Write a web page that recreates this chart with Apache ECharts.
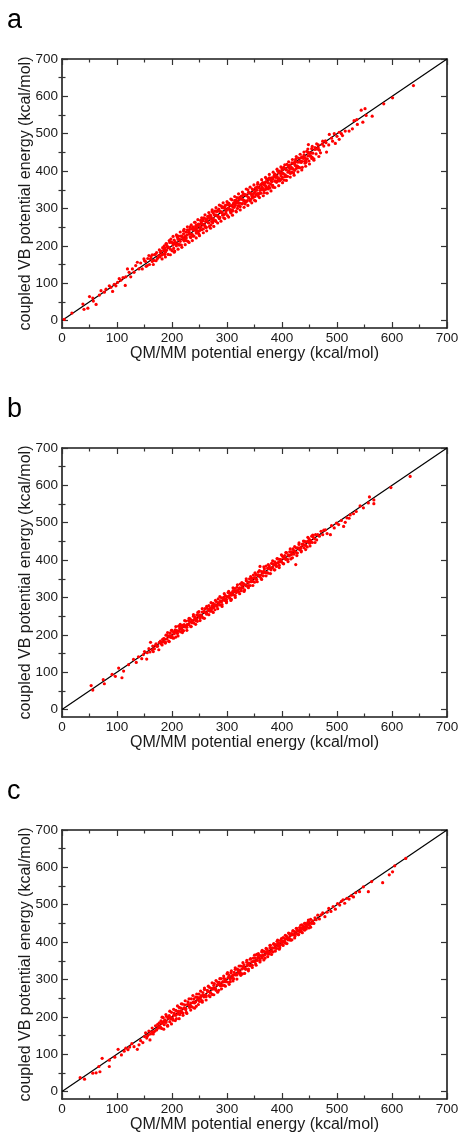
<!DOCTYPE html>
<html>
<head>
<meta charset="utf-8">
<script src="https://cdn.jsdelivr.net/npm/echarts@6/dist/echarts.min.js"></script>
<style>
html,body{margin:0;padding:0;background:#fff;}
#chart{width:462px;height:1134px;}
</style>
</head>
<body>
<div id="chart"></div>
<script>
// ---------- data ----------
const panelLabels = ['a', 'b', 'c'];
const xAxisTitle = 'QM/MM potential energy (kcal/mol)';
const yAxisTitle = 'coupled VB potential energy (kcal/mol)';
const majorTicks = [0, 100, 200, 300, 400, 500, 600, 700];
const minorTicks = [50, 150, 250, 350, 450, 550, 650];
const diagonal = [[0, 0], [700, 700]];

// panel a
const lowA = [[4,3],[18,20],[38,44],[40,30],[47,33],[50,64],[56,60],[57,52],[62,43],[68,68],[71,80],[77,76],[80,84],[86,93],[89,89],[92,78],[95,97],[98,93],[101,102],[104,112],[107,108],[111,115],[115,94],[116,117],[119,138],[122,129],[125,117],[128,138],[131,129],[134,147],[137,156],[140,138],[143,154],[146,138],[149,165],[152,158],[155,147],[158,174],[161,165],[164,176],[167,161],[170,178],[173,165],[176,174],[179,183],[182,165],[186,200],[188,183]];
const transA = [[150,160],[153,145],[156,166],[159,150],[162,171],[164,158],[166,150],[168,176],[171,160],[172,182],[174,168],[177,189],[178,170],[180,186],[181,175],[183,195],[184,178],[185,188],[187,194],[188,170],[190,206],[192,196]];
const bandA = [[186,191],[187,177],[189,205],[190,188],[191,200],[193,177],[194,196],[196,209],[197,191],[198,218],[200,187],[201,208],[202,202],[204,215],[205,186],[206,210],[208,200],[209,226],[210,206],[212,226],[213,202],[214,217],[216,226],[217,202],[218,226],[220,217],[221,240],[222,213],[224,225],[225,237],[226,221],[228,243],[229,212],[230,236],[232,231],[233,251],[234,222],[236,245],[237,230],[238,251],[240,226],[241,246],[242,263],[244,234],[245,247],[246,240],[248,258],[249,231],[250,257],[252,268],[253,251],[254,243],[256,267],[257,257],[258,275],[260,252],[261,265],[262,249],[264,272],[265,279],[266,262],[268,252],[269,272],[270,282],[272,265],[273,292],[274,271],[276,267],[277,283],[278,293],[280,265],[281,282],[282,292],[284,279],[285,298],[286,274],[288,292],[289,307],[290,289],[292,282],[293,302],[294,275],[296,303],[297,308],[298,292],
[300,310],[301,281],[302,298],[304,312],[305,297],[306,292],[308,307],[309,323],[310,293],[312,314],[313,303],[314,320],[316,293],[317,314],[318,329],[320,307],[321,315],[322,326],[324,305],[325,325],[326,333],[328,313],[329,324],[330,339],[332,321],[333,312],[334,337],[336,334],[337,321],[338,350],[340,327],[341,342],[342,320],[344,341],[345,334],[346,352],[348,330],[349,341],[350,322],[352,355],[353,337],[354,349],[356,365],[357,333],[358,356],[360,348],[361,363],[362,341],[364,357],[365,369],[366,352],[368,342],[369,369],[370,361],[372,379],[373,354],[374,370],[376,359],[377,382],[378,355],[380,374],[381,382],[382,372],[384,357],[385,384],[386,389],[388,373],[389,383],[390,370],[392,400],[393,380],[394,395],[396,374],[397,394],[398,387],[400,406],[401,383],[402,394],[404,376],[405,408],[406,390],[408,403],[409,418],[410,386],[412,410],[413,401],[414,416],[416,395],[417,410],[418,422],[420,406],[421,395],[422,422],[424,415],[425,432],[426,407],[428,424],[429,412],[430,435],[432,409],[433,427],[434,435],[436,426],[437,410],[438,437],[440,443],[441,426],[442,436],[444,424],[445,453],[446,433],[448,449],[449,427],[450,447],[452,441],[454,460],[455,437],[456,448],[458,433],[460,463],[462,446],[464,459],[466,470],[468,456],[470,449],[473,472],[476,467],[479,481]];
const coreA = [[203,206],[207,204],[211,217],[215,212],[219,223],[223,218],[227,229],[231,238],[235,231],[239,242],[243,241],[247,253],[251,246],[255,259],[259,256],[263,268],[267,261],[271,278],[275,273],[279,282],[283,279],[287,292],[291,290],[295,301],[299,296],[303,301],[307,296],[311,311],[315,308],[319,320],[323,314],[327,325],[331,319],[335,334],[339,330],[343,339],[347,337],[351,345],[355,340],[359,354],[363,351],[367,364],[371,357],[375,368],[379,366],[383,379],[387,374],[391,386],[395,380],[399,394],[403,392],[407,404],[411,397],[415,407],[419,406],[423,419],[427,414],[431,424],[435,423],[439,434],[443,429],[447,441],[451,440],
[233,224],[237,246],[243,252],[247,236],[253,262],[257,245],[261,272],[267,276],[271,256],[275,288],[279,268],[283,294],[287,276],[291,302],[295,284],[303,314],[307,288],[311,304],[315,322],[319,300],[323,330],[327,312],[331,337],[335,318],[339,343],[343,324],[347,350],[351,332],[355,358],[359,340],[363,366],[367,348],[371,372],[375,352],[379,380],[383,362],[387,392],[391,374],[395,400],[399,378],[403,410],[407,386],[411,414],[415,394],[419,421],[423,402],
[199,210],[203,193],[210,222],[214,203],[221,232],[226,214],[232,244],[238,226],[244,256],[250,240],[256,269],[262,250],[268,281],[274,262],[280,293],[286,273],[292,304],[298,287],[304,309],[310,296],[316,322],[322,307],[328,334],[334,318],[340,342],[346,328],[352,354],[358,340],[364,366],[370,351],[376,378],[382,362],[388,390],[394,374],[400,402],[406,385],[412,414],[418,397],[424,426],[430,409],[436,438],[442,421],[448,450],[454,434]];
const edgeA = [[195,214],[197,176],[202,225],[204,183],[208,229],[211,191],[215,237],[218,196],[222,244],[224,203],[228,251],[231,209],[235,256],[237,214],[241,263],[244,221],[247,270],[250,227],[254,275],[257,235],[260,283],[263,240],[267,289],[270,247],[273,296],[276,252],[280,302],[283,261],[286,309],[289,266],[293,315],[296,273],[300,318],[303,277],[307,325],[310,282],[314,332],[317,291],[321,339],[324,296],[328,344],[331,303],[335,352],[338,308],[342,357],[345,315],[349,363],[352,320],[356,369],[359,329],[363,377],[366,334],[370,383],[373,341],[377,391],[380,347],[384,397],[387,356],[391,405],[394,361],[398,411],[401,369],[405,417],[408,375],[412,425],[415,384],[419,431],[422,389],[426,439],[429,398],[433,445],[436,403],[440,451],[443,413],[447,459],[450,419],[455,466],[458,429],[463,473],[467,439]];
const highA = [[448,471],[453,449],[460,458],[466,462],[474,480],[480,476],[481,451],[485,470],[486,498],[490,488],[492,480],[495,500],[497,474],[500,493],[504,485],[504,504],[508,500],[510,495],[515,507],[522,507],[528,513],[531,535],[536,538],[537,525],[544,563],[547,531],[551,567],[553,549],[564,547],[585,580],[601,596],[639,629]];

// panel b
const lowB = [[53,64],[56,52],[75,80],[77,69],[91,94],[97,89],[103,111],[109,85],[112,103],[121,120],[130,134],[135,126],[139,141],[145,136],[148,147],[154,135],[161,180],[164,160],[166,155],[170,172],[173,169],[176,160],[179,183],[182,173],[185,190],[188,178]];
const transB = [[150,155],[155,152],[158,163],[160,154],[165,170],[168,163],[171,176],[174,170],[177,180],[180,176],[183,188],[184,181]];
const bandB = [[186,189],[188,181],[189,199],[191,189],[192,198],[194,183],[195,195],[197,205],[198,193],[200,212],[201,192],[203,207],[204,203],[206,213],[207,194],[209,211],[210,204],[212,223],[213,210],[215,224],[216,208],[218,219],[219,225],[221,211],[222,227],[224,221],[225,237],[227,220],[228,228],[230,238],[231,227],[233,243],[234,222],[236,239],[237,236],[239,250],[240,231],[242,247],[243,238],[245,253],[246,236],[248,250],[249,262],[251,244],[252,253],[254,250],[255,261],[257,245],[258,262],[260,270],[261,259],[263,255],[264,271],[266,265],[267,278],[269,263],[270,272],[272,263],[273,278],[275,284],[276,273],[278,267],[279,280],[281,288],[282,277],[284,296],[285,282],[287,280],[288,291],[290,299],[291,281],[293,293],[294,300],[296,292],[297,305],[299,290],[300,302],[302,313],[303,302],[305,298],[306,311],[308,295],[309,313],[311,318],[312,307],[314,324],[315,305],[317,318],[318,327],[320,318],[321,315],[323,326],[324,336],[326,318],[327,332],[329,326],[330,337],[332,320],[333,334],[335,345],[336,331],[338,341],[339,332],[341,350],[342,332],[344,344],[345,351],[347,343],[348,360],[350,341],[351,353],[353,361],[354,348],[356,360],[357,368],[359,356],[360,383],[362,351],[363,369],[365,366],[366,358],[368,377],[369,367],[371,384],[372,367],[374,378],[375,365],[377,384],[378,378],[380,374],[381,391],[383,380],[384,389],[386,374],[387,395],[389,391],[390,383],[392,403],[393,392],[395,386],[396,402],[398,401],[399,395],[401,410],[402,391],[404,405],[405,412],[407,402],[408,420],[410,402],[411,414],[413,411],[414,422],[416,403],[417,422],[419,416],[420,430],[422,416],[423,425],[425,388],[426,433],[428,419],[429,433],[431,442],[432,428],[434,434],[435,425],[437,443],[438,440],[440,433],[441,450],[443,440],[444,449],[446,435],[447,450],[449,457],[450,445],[452,453],[454,464],[455,447],[457,461],[459,457],[461,468],[463,454],[465,468],[468,464],[471,477],[474,468]];
const coreB = [[196,198],[200,197],[205,208],[209,205],[214,217],[218,214],[223,224],[227,225],[232,235],[236,232],[241,242],[245,243],[250,253],[254,250],[259,262],[263,259],[268,269],[272,270],[277,280],[281,277],[286,287],[290,288],[295,298],[299,295],[304,305],[308,306],[313,316],[317,313],[322,323],[326,324],[331,334],[335,331],[340,341],[344,342],[349,352],[353,349],[358,359],[362,360],[367,370],[371,367],[376,377],[380,378],[385,388],[389,385],[394,395],[398,396],[403,406],[407,403],[412,413],[416,414],[421,424],[425,421],[430,431],[434,432],[439,442],[443,439],[448,449],[452,450]];
const edgeB = [[192,206],[195,182],[199,212],[203,191],[207,222],[211,197],[215,228],[219,206],[223,238],[227,212],[231,244],[235,222],[239,254],[243,228],[247,260],[251,238],[255,270],[259,244],[263,276],[267,254],[271,286],[275,260],[279,292],[283,270],[287,302],[291,276],[295,310],[299,286],[303,316],[307,292],[311,326],[315,300],[319,334],[323,310],[327,340],[331,316],[335,350],[339,326],[343,356],[347,332],[351,366],[355,342],[359,372],[363,348],[367,382],[371,358],[375,388],[379,364],[383,398],[387,374],[391,404],[395,380],[399,414],[403,390],[407,420],[411,396],[415,430],[419,406],[423,436],[427,412],[431,446],[435,422],[439,451],[443,428],[447,461],[451,438],[456,467],[460,447]];
const highB = [[476,480],[479,481],[482,471],[488,468],[490,492],[495,486],[499,499],[503,495],[508,506],[512,490],[515,501],[518,513],[522,512],[524,521],[530,524],[535,530],[542,545],[548,540],[557,553],[559,569],[567,561],[567,551],[598,594],[633,624]];

// panel c
const lowC = [[33,37],[41,33],[56,49],[62,50],[69,53],[67,67],[73,89],[86,67],[86,84],[96,92],[102,113],[108,98],[113,108],[116,116],[120,112],[123,119],[127,128],[131,120],[137,113],[140,125],[143,136],[147,131],[150,147],[154,143],[157,152],[160,138],[163,160],[166,154],[169,162],[172,165],[175,172]];
const transC = [[152,157],[155,148],[158,162],[161,154],[164,170],[167,160],[170,176],[172,166],[174,180],[176,170],[177,184],[179,172],[181,182]];
const bandC = [[178,174],[180,189],[181,169],[183,185],[184,198],[186,179],[187,192],[189,188],[190,201],[192,177],[193,196],[195,203],[196,187],[198,198],[199,212],[201,196],[202,191],[204,210],[205,206],[207,217],[208,195],[210,214],[211,208],[213,225],[214,206],[216,223],[217,215],[219,234],[220,210],[222,224],[223,232],[225,219],[226,212],[228,233],[229,240],[231,230],[232,225],[234,237],[235,248],[237,226],[238,238],[240,248],[241,237],[243,253],[244,228],[246,252],[247,245],[249,261],[250,241],[252,253],[253,257],[255,243],[256,265],[258,253],[259,273],[261,258],[262,254],[264,271],[265,267],[267,257],[268,279],[270,264],[271,276],[273,260],[274,274],[276,284],[277,289],[279,275],[280,271],[282,285],[283,293],[285,271],[286,292],[288,287],[289,302],[291,284],[292,293],[294,303],[295,284],[297,301],[298,295],[300,315],[301,293],[303,305],[304,311],[306,294],[307,318],[309,304],[310,310],[312,302],[313,319],[315,327],[316,314],[318,312],[319,328],[321,317],[322,325],[324,315],[325,336],[327,328],[328,315],[330,335],[331,339],[333,330],[334,327],[336,346],[337,337],[339,328],[340,344],[342,354],[343,338],[345,347],[346,338],[348,357],[349,348],[351,357],[352,342],[354,367],[355,351],[357,358],[358,365],[360,351],[361,364],[363,374],[364,358],[366,364],[367,375],[369,357],[370,374],[372,382],[373,370],[375,375],[376,368],[378,384],[379,391],[381,376],[382,384],[384,374],[385,394],[387,386],[388,393],[390,383],[391,402],[393,389],[394,397],[396,385],[397,404],[399,400],[400,394],[402,412],[403,400],[405,409],[406,397],[408,416],[409,409],[411,406],[412,424],[414,406],[415,418],[417,423],[418,406],[420,429],[421,419],[423,428],[424,417],[426,437],[427,423],[429,431],[430,420],[432,439],[433,434],[435,429],[436,446],[438,435],[439,443],[441,432],[442,450],[444,444],[445,440],[447,453],[449,438],[450,453],[452,461],[454,450],[456,457],[458,450],[460,465],[462,460],[465,472],[468,462],[471,473]];
const coreC = [[185,188],[189,185],[194,197],[198,195],[203,204],[207,204],[212,215],[216,211],[221,222],[225,222],[230,233],[234,229],[239,240],[243,240],[248,251],[252,247],[257,258],[261,258],[266,269],[270,265],[275,276],[279,276],[284,287],[288,283],[293,294],[297,294],[302,305],[306,301],[311,312],[315,312],[320,323],[324,319],[329,330],[333,330],[338,341],[342,337],[347,348],[351,348],[356,359],[360,355],[365,366],[369,366],[374,377],[378,373],[383,384],[387,384],[392,395],[396,391],[401,402],[405,402],[410,413],[414,409],[419,420],[423,420],[428,431],[432,427],[437,438],[441,438],[446,449],[450,445]];
const edgeC = [[182,199],[185,167],[189,206],[192,175],[196,215],[199,181],[203,220],[206,190],[210,229],[213,195],[217,235],[220,204],[224,243],[227,209],[231,248],[234,218],[238,257],[241,223],[245,261],[248,233],[252,269],[255,239],[259,277],[262,245],[266,282],[269,254],[273,291],[276,259],[280,297],[283,266],[287,302],[290,275],[294,309],[297,282],[301,318],[304,287],[308,323],[311,296],[315,331],[318,301],[322,336],[325,311],[329,345],[332,316],[336,351],[339,323],[343,356],[346,332],[350,365],[353,338],[357,369],[360,347],[364,378],[367,352],[371,383],[374,361],[378,391],[381,367],[385,396],[388,376],[392,405],[395,381],[399,409],[402,391],[406,418],[409,396],[413,423],[416,405],[420,431],[423,411],[427,436],[430,420],[434,445],[437,425],[441,450],[444,435],[448,459],[452,440]];
const highC = [[474,478],[478,468],[482,480],[485,490],[489,482],[493,495],[497,488],[501,503],[505,499],[508,509],[511,513],[514,504],[518,517],[522,515],[526,524],[530,521],[534,532],[541,535],[548,548],[557,535],[563,562],[583,559],[595,580],[601,588],[605,604],[625,624]];

const panelPoints = [
  [].concat(lowA, transA, bandA, coreA, edgeA, highA),
  [].concat(lowB, transB, bandB, coreB, edgeB, highB),
  [].concat(lowC, transC, bandC, coreC, edgeC, highC)
];

// ---------- layout / style ----------
const FONT = '"Liberation Sans", Arial, Helvetica, sans-serif';
const gridTops = [59, 448, 830];
const GRID_LEFT = 62, GRID_W = 385, GRID_H = 269;
const Y_MIN = -20, X_MIN = 0, AX_MAX = 700;
const frame = {show: true, onZero: false, lineStyle: {color: '#1a1a1a', width: 1.6}};
const tickStyle = {color: '#333', width: 1.2};

const grid = [], xAxis = [], yAxis = [], series = [], graphic = [];

gridTops.forEach((top, i) => {
  grid.push({left: GRID_LEFT, top: top, width: GRID_W, height: GRID_H, containLabel: false});

  xAxis.push({
    gridIndex: i, type: 'value', min: X_MIN, max: AX_MAX, interval: 100, position: 'bottom',
    axisLine: frame,
    axisTick: {show: true, inside: true, length: 6, lineStyle: tickStyle},
    minorTick: {show: true, splitNumber: 2, length: 3.5, lineStyle: tickStyle},
    splitLine: {show: false}, minorSplitLine: {show: false},
    axisLabel: {show: true, color: '#1a1a1a', fontSize: 13.5, fontFamily: FONT, margin: 3, showMinLabel: true, showMaxLabel: true},
    name: xAxisTitle, nameLocation: 'middle', nameGap: 16,
    nameTextStyle: {fontSize: 16, color: '#1a1a1a', fontFamily: FONT}
  });
  xAxis.push({
    gridIndex: i, type: 'value', min: X_MIN, max: AX_MAX, interval: 100, position: 'top',
    axisLine: frame,
    axisTick: {show: true, inside: true, length: 6, lineStyle: tickStyle},
    minorTick: {show: true, splitNumber: 2, length: 3.5, lineStyle: tickStyle},
    splitLine: {show: false}, minorSplitLine: {show: false},
    axisLabel: {show: false}
  });
  yAxis.push({
    gridIndex: i, type: 'value', min: Y_MIN, max: AX_MAX, position: 'left',
    axisLine: frame,
    axisTick: {show: true, inside: true, length: 6, lineStyle: tickStyle, customValues: majorTicks},
    axisLabel: {show: true, color: '#1a1a1a', fontSize: 13.5, fontFamily: FONT, margin: 4, customValues: majorTicks},
    splitLine: {show: false},
    name: yAxisTitle, nameLocation: 'middle', nameGap: 28, nameRotate: 90, nameMoveOverlap: false,
    nameTextStyle: {fontSize: 16, color: '#1a1a1a', fontFamily: FONT}
  });
  yAxis.push({
    gridIndex: i, type: 'value', min: Y_MIN, max: AX_MAX, position: 'left',
    axisLine: {show: false},
    axisTick: {show: true, inside: true, length: 3.5, lineStyle: tickStyle, customValues: minorTicks},
    axisLabel: {show: false}, splitLine: {show: false}
  });
  yAxis.push({
    gridIndex: i, type: 'value', min: Y_MIN, max: AX_MAX, position: 'right',
    axisLine: frame,
    axisTick: {show: true, inside: true, length: 6, lineStyle: tickStyle, customValues: majorTicks},
    axisLabel: {show: false}, splitLine: {show: false}
  });
  yAxis.push({
    gridIndex: i, type: 'value', min: Y_MIN, max: AX_MAX, position: 'right',
    axisLine: {show: false},
    axisTick: {show: true, inside: true, length: 3.5, lineStyle: tickStyle, customValues: minorTicks},
    axisLabel: {show: false}, splitLine: {show: false}
  });

  series.push({
    type: 'line', xAxisIndex: i * 2, yAxisIndex: i * 4, data: diagonal,
    symbol: 'none', silent: true, z: 2,
    lineStyle: {color: '#000', width: 1.2}
  });
  series.push({
    type: 'scatter', xAxisIndex: i * 2, yAxisIndex: i * 4, data: panelPoints[i],
    symbol: 'circle', symbolSize: 3.2, silent: true, z: 3,
    itemStyle: {color: '#ff0000', opacity: 1}
  });

  graphic.push({
    type: 'text', left: 7, top: top - 52,
    style: {text: panelLabels[i], font: '27px ' + FONT, fill: '#000'}
  });
});

const chart = echarts.init(document.getElementById('chart'), null, {renderer: 'canvas'});
chart.setOption({
  animation: false,
  backgroundColor: '#fff',
  grid: grid, xAxis: xAxis, yAxis: yAxis, series: series, graphic: graphic
});
</script>
</body>
</html>
